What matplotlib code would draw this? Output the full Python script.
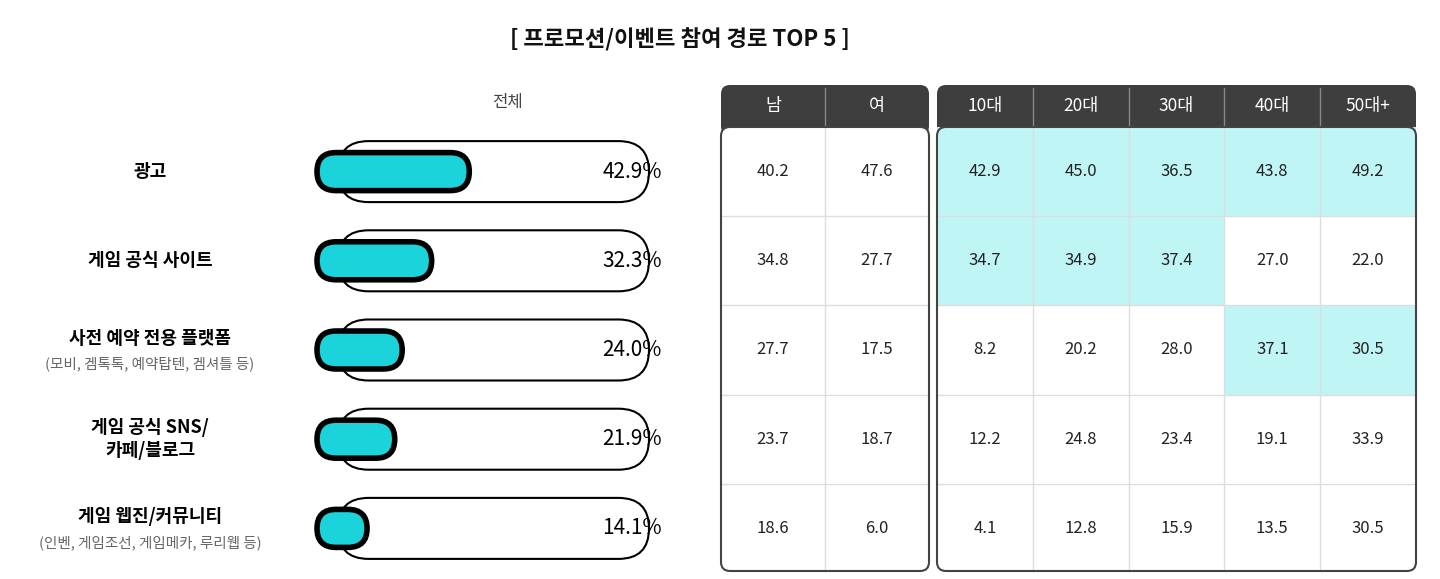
import matplotlib
matplotlib.use("Agg")
import matplotlib.pyplot as plt
from matplotlib.patches import FancyBboxPatch, Rectangle

plt.rcParams['font.family'] = ['Noto Sans CJK KR', 'DejaVu Sans']

categories = ["광고", "게임 공식 사이트", "사전 예약 전용 플랫폼", "게임 공식 SNS/\n카페/블로그", "게임 웹진/커뮤니티"]
subtitles = ["", "", "(모비, 겜톡톡, 예약탑텐, 겜셔틀 등)", "", "(인벤, 게임조선, 게임메카, 루리웹 등)"]
total = [42.9, 32.3, 24.0, 21.9, 14.1]
gender_cols = ["남", "여"]
gender = [[40.2, 47.6], [34.8, 27.7], [27.7, 17.5], [23.7, 18.7], [18.6, 6.0]]
age_cols = ["10대", "20대", "30대", "40대", "50대+"]
age = [[42.9, 45.0, 36.5, 43.8, 49.2],
       [34.7, 34.9, 37.4, 27.0, 22.0],
       [8.2, 20.2, 28.0, 37.1, 30.5],
       [12.2, 24.8, 23.4, 19.1, 33.9],
       [4.1, 12.8, 15.9, 13.5, 30.5]]
highlight = [[1, 1, 1, 1, 1], [1, 1, 1, 0, 0], [0, 0, 0, 1, 1], [0, 0, 0, 0, 0], [0, 0, 0, 0, 0]]

fig = plt.figure(figsize=(14.4, 5.79), dpi=100)
ax = fig.add_axes([0, 0, 1, 1])
ax.set_xlim(0, 1440)
ax.set_ylim(579, 0)
ax.axis("off")

ax.text(680, 40, "[ 프로모션/이벤트 참여 경로 TOP 5 ]", ha="center", va="center",
        fontsize=16, fontweight="bold", color="#111111")
ax.text(507, 102, "전체", ha="center", va="center", fontsize=12, color="#444444")

row_top, row_h = 127, 89.2
px_per_pct = 3.55
for i, (cat, sub, v) in enumerate(zip(categories, subtitles, total)):
    cy = row_top + row_h * (i + 0.5)
    if sub:
        ax.text(150, cy - 12, cat, ha="center", va="center", fontsize=13, fontweight="bold")
        ax.text(150, cy + 14, sub, ha="center", va="center", fontsize=10.5, color="#666666")
    else:
        ax.text(150, cy, cat, ha="center", va="center", fontsize=13, fontweight="bold",
                linespacing=1.3)
    ax.add_patch(FancyBboxPatch((307 + 31, cy - 31 + 0.5), 373 - 62, 61,
                                boxstyle="round,pad=0,rounding_size=30.5",
                                mutation_aspect=1, fc="white", ec="black", lw=1.5))
    ax.add_patch(FancyBboxPatch((336, cy - 10), 0, 0,
                                boxstyle="round,pad=0", fc="none", ec="none"))
    w = v * px_per_pct
    ax.add_patch(FancyBboxPatch((317, cy - 19), w, 38,
                                boxstyle="round,pad=0,rounding_size=19",
                                fc="#1AD3DB", ec="black", lw=4))
    ax.text(662, cy, f"{v:.1f}%", ha="right", va="center", fontsize=15)


def block(x0, x1, cols, data, hl=None):
    n = len(cols)
    cw = (x1 - x0) / n
    # header
    ax.add_patch(FancyBboxPatch((x0, 85), x1 - x0, 50, boxstyle="round,pad=0,rounding_size=9",
                                fc="#3E3E3E", ec="none"))
    # body
    ax.add_patch(FancyBboxPatch((x0, 127), x1 - x0, 444, boxstyle="round,pad=0,rounding_size=9",
                                fc="white", ec="none", zorder=2))
    for r, rowv in enumerate(data):
        for c, v in enumerate(rowv):
            if hl and hl[r][c]:
                ax.add_patch(Rectangle((x0 + c * cw, row_top + r * row_h), cw, row_h,
                                       fc="#C0F5F6", ec="none", zorder=2.5))
            ax.text(x0 + (c + 0.5) * cw, row_top + (r + 0.5) * row_h, f"{v:.1f}",
                    ha="center", va="center", fontsize=12, color="#222222", zorder=4)
    for r in range(1, len(data)):
        y = row_top + r * row_h
        ax.plot([x0, x1], [y, y], color="#DDDDDD", lw=1, zorder=3)
    for c in range(1, n):
        x = x0 + c * cw
        ax.plot([x, x], [127, 571], color="#DDDDDD", lw=1, zorder=3)
        ax.plot([x, x], [88, 125], color="#888888", lw=1, zorder=3)
    for c, name in enumerate(cols):
        ax.text(x0 + (c + 0.5) * cw, 106, name, ha="center", va="center",
                fontsize=12.5, color="white")
    ax.add_patch(FancyBboxPatch((x0, 127), x1 - x0, 444, boxstyle="round,pad=0,rounding_size=9",
                                fc="none", ec="#444444", lw=1.5, zorder=5))


block(721, 929, gender_cols, gender)
block(937, 1416, age_cols, age, highlight)

fig.savefig("out.png", dpi=100)
